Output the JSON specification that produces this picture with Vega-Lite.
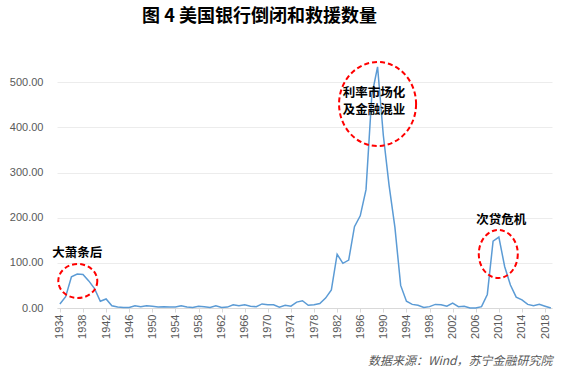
{
  "$schema": "https://vega.github.io/schema/vega-lite/v6.json",
  "width": 495,
  "height": 271,
  "autosize": {"type": "none"},
  "padding": {"left": 57, "top": 37, "right": 17, "bottom": 69},
  "background": "white",
  "title": {
    "text": "图 4  美国银行倒闭和救援数量",
    "font": "Noto Sans CJK SC",
    "fontSize": 18,
    "fontWeight": "bold",
    "color": "#000000",
    "anchor": "middle",
    "dx": -45,
    "offset": 11
  },
  "config": {
    "view": {"stroke": null},
    "axis": {"labelFont": "Liberation Sans", "labelColor": "#595959", "labelFontSize": 11},
    "axisX": {"labelOverlap": false, "labelFlush": false}
  },
  "encoding": {
    "x": {
      "field": "year", "type": "quantitative",
      "scale": {"domain": [1933.5, 2019.2], "nice": false, "zero": false},
      "axis": {
        "values": [1934, 1938, 1942, 1946, 1950, 1954, 1958, 1962, 1966, 1970, 1974, 1978, 1982, 1986, 1990, 1994, 1998, 2002, 2006, 2010, 2014, 2018],
        "format": "d",
        "labelAngle": -90,
        "labelAlign": "right",
        "labelBaseline": "middle",
        "labelPadding": 2,
        "labelOverlap": false,
        "labelFlush": false,
        "grid": false,
        "domainColor": "#d9d9d9",
        "tickColor": "#d9d9d9",
        "tickSize": 4,
        "title": "数据来源：Wind，苏宁金融研究院",
        "titleFont": "Noto Sans CJK SC",
        "titleFontSize": 12,
        "titleFontWeight": "normal",
        "titleFontStyle": "italic",
        "titleColor": "#595959",
        "titleAnchor": "end",
        "titleAlign": "right",
        "titleBaseline": "middle",
        "titleY": 52
      }
    },
    "y": {
      "field": "count", "type": "quantitative",
      "scale": {"domain": [0, 600], "nice": false},
      "axis": {
        "values": [0, 100, 200, 300, 400, 500],
        "format": ".2f",
        "title": null,
        "domain": false,
        "ticks": false,
        "labelPadding": 14,
        "gridColor": "#ececec",
        "gridWidth": 1
      }
    }
  },
  "layer": [
    {
      "data": {"values": [
        {"year": 1934, "count": 9}, {"year": 1935, "count": 25}, {"year": 1936, "count": 69}, {"year": 1937, "count": 75},
        {"year": 1938, "count": 74}, {"year": 1939, "count": 60}, {"year": 1940, "count": 43}, {"year": 1941, "count": 15},
        {"year": 1942, "count": 20}, {"year": 1943, "count": 5}, {"year": 1944, "count": 2}, {"year": 1945, "count": 1},
        {"year": 1946, "count": 1}, {"year": 1947, "count": 5}, {"year": 1948, "count": 3}, {"year": 1949, "count": 5},
        {"year": 1950, "count": 4}, {"year": 1951, "count": 2}, {"year": 1952, "count": 3}, {"year": 1953, "count": 2},
        {"year": 1954, "count": 2}, {"year": 1955, "count": 5}, {"year": 1956, "count": 2}, {"year": 1957, "count": 1},
        {"year": 1958, "count": 4}, {"year": 1959, "count": 3}, {"year": 1960, "count": 1}, {"year": 1961, "count": 5},
        {"year": 1962, "count": 1}, {"year": 1963, "count": 2}, {"year": 1964, "count": 7}, {"year": 1965, "count": 5},
        {"year": 1966, "count": 7}, {"year": 1967, "count": 4}, {"year": 1968, "count": 3}, {"year": 1969, "count": 9},
        {"year": 1970, "count": 7}, {"year": 1971, "count": 7}, {"year": 1972, "count": 2}, {"year": 1973, "count": 6},
        {"year": 1974, "count": 4}, {"year": 1975, "count": 13}, {"year": 1976, "count": 16}, {"year": 1977, "count": 6},
        {"year": 1978, "count": 7}, {"year": 1979, "count": 10}, {"year": 1980, "count": 22}, {"year": 1981, "count": 40},
        {"year": 1982, "count": 119}, {"year": 1983, "count": 99}, {"year": 1984, "count": 106}, {"year": 1985, "count": 180},
        {"year": 1986, "count": 204}, {"year": 1987, "count": 262}, {"year": 1988, "count": 470}, {"year": 1989, "count": 534},
        {"year": 1990, "count": 382}, {"year": 1991, "count": 271}, {"year": 1992, "count": 179}, {"year": 1993, "count": 50},
        {"year": 1994, "count": 15}, {"year": 1995, "count": 8}, {"year": 1996, "count": 6}, {"year": 1997, "count": 1},
        {"year": 1998, "count": 3}, {"year": 1999, "count": 8}, {"year": 2000, "count": 7}, {"year": 2001, "count": 4},
        {"year": 2002, "count": 11}, {"year": 2003, "count": 3}, {"year": 2004, "count": 4}, {"year": 2005, "count": 0},
        {"year": 2006, "count": 0}, {"year": 2007, "count": 3}, {"year": 2008, "count": 30}, {"year": 2009, "count": 148},
        {"year": 2010, "count": 157}, {"year": 2011, "count": 92}, {"year": 2012, "count": 51}, {"year": 2013, "count": 24},
        {"year": 2014, "count": 18}, {"year": 2015, "count": 8}, {"year": 2016, "count": 5}, {"year": 2017, "count": 8},
        {"year": 2018, "count": 4}, {"year": 2019, "count": 0}
      ]},
      "mark": {"type": "line", "color": "#5B9BD5", "strokeWidth": 1.5}
    },
    {
      "data": {"values": [{"year": 1937.1, "count": 59.8}]},
      "mark": {"type": "point", "filled": false, "stroke": "#FF0000", "strokeWidth": 2, "strokeDash": [5, 3], "size": 1600, "opacity": 1,
        "shape": "M0.975,0 C0.975,0.4695 0.5385,0.85 0,0.85 C-0.5385,0.85 -0.975,0.4695 -0.975,0 C-0.975,-0.4695 -0.5385,-0.85 0,-0.85 C0.5385,-0.85 0.975,-0.4695 0.975,0 Z"}
    },
    {
      "data": {"values": [{"year": 1989.0, "count": 451.6}]},
      "mark": {"type": "point", "filled": false, "stroke": "#FF0000", "strokeWidth": 2, "strokeDash": [5, 3], "size": 7056, "opacity": 1,
        "shape": "M0.917,0 C0.917,0.5523 0.5065,1 0,1 C-0.5065,1 -0.917,0.5523 -0.917,0 C-0.917,-0.5523 -0.5065,-1 0,-1 C0.5065,-1 0.917,-0.5523 0.917,0 Z"}
    },
    {
      "data": {"values": [{"year": 2009.9, "count": 119.5}]},
      "mark": {"type": "point", "filled": false, "stroke": "#FF0000", "strokeWidth": 2, "strokeDash": [5, 3], "size": 2304, "opacity": 1,
        "shape": "M0.8125,0 C0.8125,0.5523 0.4487,1 0,1 C-0.4487,1 -0.8125,0.5523 -0.8125,0 C-0.8125,-0.5523 -0.4487,-1 0,-1 C0.4487,-1 0.8125,-0.5523 0.8125,0 Z"}
    },
    {
      "data": {"values": [
        {"year": 1937.0, "count": 121.8, "label": "大萧条后"},
        {"year": 1988.4, "count": 477, "label": "利率市场化\n及金融混业"},
        {"year": 2010.4, "count": 194.8, "label": "次贷危机"}
      ]},
      "mark": {"type": "text", "font": "Noto Sans CJK SC", "fontSize": 12.5, "fontWeight": "bold", "color": "#000000", "align": "center", "baseline": "middle", "lineBreak": "\n", "lineHeight": 17},
      "encoding": {"text": {"field": "label"}}
    }
  ]
}
